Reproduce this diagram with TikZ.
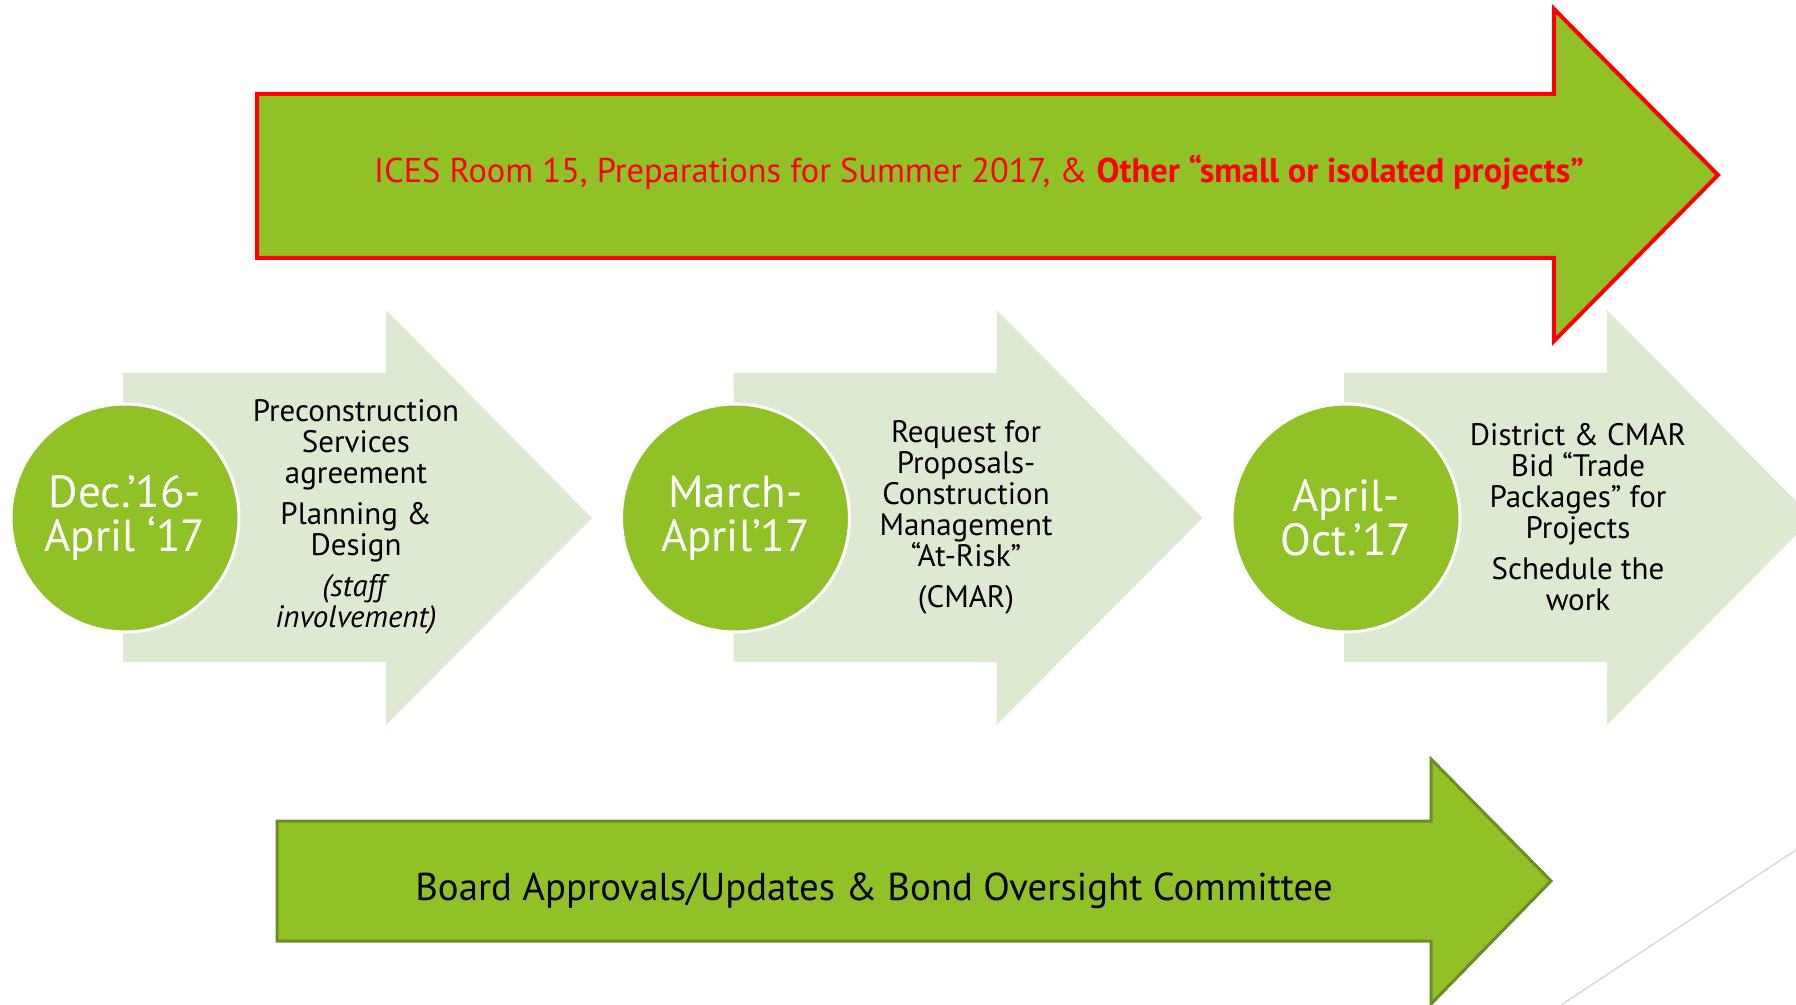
\documentclass[tikz,border=0pt]{standalone}
\usepackage{fontspec}
\setmainfont{PT Sans}
\usetikzlibrary{positioning}

\definecolor{leaf}{RGB}{144,193,38}
\definecolor{pale}{RGB}{222,233,209}
\definecolor{moss}{RGB}{106,142,35}

\begin{document}
\begin{tikzpicture}[x=0.5pt,y=-0.5pt,
  datecircle/.style={circle,fill=leaf,draw=white,line width=1.5pt,minimum size=114pt,
    inner sep=0pt,align=center,text=white,font=\fontsize{22.5}{22}\selectfont},
  tasktext/.style={align=center,font=\fontsize{15.5}{15.5}\selectfont}]

\clip (0,0) rectangle (1796,1005);

% top arrow
\filldraw[fill=leaf,draw=red,line width=2pt]
  (257,94) -- (1554,94) -- (1554,9) -- (1718,175) -- (1554,341) -- (1554,258) -- (257,258) -- cycle;
\node[text=red,font=\fontsize{17.2}{19}\selectfont] (topnote) at (979,172)
  {ICES Room 15, Preparations for Summer 2017, \& \textbf{Other “small or isolated projects”}};

% phase arrows
\foreach \cx in {125,735.5,1346}
  \fill[pale] (\cx-2,373) -- (\cx+261,373) -- (\cx+261,310) -- (\cx+467,518)
    -- (\cx+261,725) -- (\cx+261,662) -- (\cx-2,662) -- cycle;

% dates
\node[datecircle] (d1) at (125,518) {Dec.’16-\\April ‘17};
\node[datecircle] (d2) at (735.5,518) {March-\\April’17};
\node[datecircle] (d3) at (1346,518) {April-\\Oct.’17};

% tasks
\node[tasktext] (t1) at (356,517) {Preconstruction\\Services\\agreement\\[5pt]
  Planning \&\\Design\\[5pt]\textit{(staff}\\\textit{involvement)}};
\node[tasktext] (t2) at (966,517) {Request for\\Proposals-\\Construction\\Management\\“At-Risk”\\[5pt](CMAR)};
\node[tasktext] (t3) at (1578,517) {District \& CMAR\\Bid “Trade\\Packages” for\\Projects\\[5pt]Schedule the\\work};

% bottom arrow
\filldraw[fill=leaf,draw=moss,line width=1.5pt]
  (277,821) -- (1431,821) -- (1431,759) -- (1551,881) -- (1431,1004) -- (1431,941) -- (277,941) -- cycle;
\node[font=\fontsize{19.4}{22}\selectfont] (board) at (874,891)
  {Board Approvals/Updates \& Bond Oversight Committee};

% slide line
\draw[black!15,line width=0.75pt] (1561,1005) -- (1796,850);

\end{tikzpicture}
\end{document}
